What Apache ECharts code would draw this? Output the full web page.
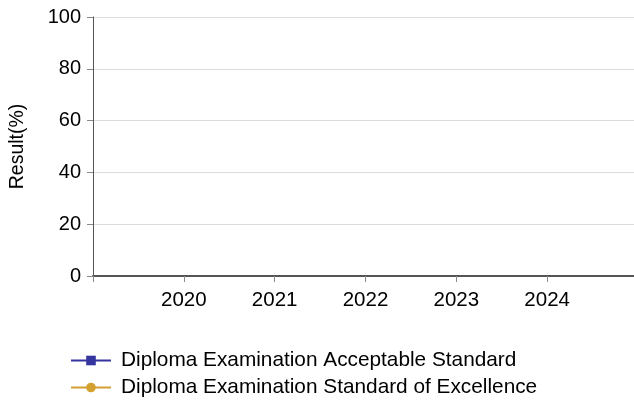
<!DOCTYPE html>
<html><head><meta charset="utf-8">
<script src="https://cdn.jsdelivr.net/npm/echarts@6/dist/echarts.min.js"></script>
<style>html,body{margin:0;padding:0;background:#fff}#c{width:634px;height:400px}</style>
</head><body><div id="c"></div>
<script>
const years = [2020, 2021, 2022, 2023, 2024];
const acceptable = [null, null, null, null, null];
const excellence = [null, null, null, null, null];
const yTicks = [0, 20, 40, 60, 80, 100];
const seriesNames = ['Diploma Examination Acceptable Standard', 'Diploma Examination Standard of Excellence'];
const colors = ['#3535a0', '#d4a030'];
const FONT = 'Liberation Sans, Arial, sans-serif';
const chart = echarts.init(document.getElementById('c'));
const legendBase = {
  orient: 'vertical', left: 65, itemWidth: 40, itemHeight: 12, itemGap: 10,
  textStyle: {fontFamily: FONT, fontSize: 20.8, color: '#000', padding: [0, 0, 0, 5]}
};
chart.setOption({
  animation: false,
  grid: {left: 93, top: 17, width: 545, height: 259, containLabel: false, outerBoundsMode: 'none'},
  xAxis: {
    type: 'value', min: years[0] - 1, max: years[years.length - 1] + 1, interval: 1,
    axisLine: {show: true, lineStyle: {color: '#555', width: 2}},
    axisTick: {show: true, length: 6, lineStyle: {color: '#888'}},
    splitLine: {show: false},
    axisLabel: {fontFamily: FONT, fontSize: 20.5, color: '#000', margin: 14,
      formatter: v => years.includes(v) ? String(v) : ''}
  },
  yAxis: {
    type: 'value', min: yTicks[0], max: yTicks[yTicks.length - 1], interval: 20,
    name: 'Result(%)', nameLocation: 'middle', nameGap: 65, nameRotate: 90,
    nameTextStyle: {fontFamily: FONT, fontSize: 19.5, color: '#000'},
    axisLine: {show: true, lineStyle: {color: '#555', width: 1}},
    axisTick: {show: true, length: 6, lineStyle: {color: '#888'}},
    splitLine: {show: true, lineStyle: {color: '#dcdcdc', width: 1}},
    axisLabel: {fontFamily: FONT, fontSize: 20, color: '#000', margin: 12}
  },
  legend: [
    Object.assign({}, legendBase, {top: 345, data: [seriesNames[0]]}),
    Object.assign({}, legendBase, {top: 372, data: [seriesNames[1]]})
  ],
  series: [
    {name: seriesNames[0], type: 'line', data: years.map((y, i) => [y, acceptable[i]]),
     symbol: 'rect', symbolSize: 9, itemStyle: {color: colors[0]}, lineStyle: {color: colors[0], width: 1.5}},
    {name: seriesNames[1], type: 'line', data: years.map((y, i) => [y, excellence[i]]),
     symbol: 'circle', symbolSize: 10, itemStyle: {color: colors[1]}, lineStyle: {color: colors[1], width: 1.5}}
  ]
});
</script></body></html>
